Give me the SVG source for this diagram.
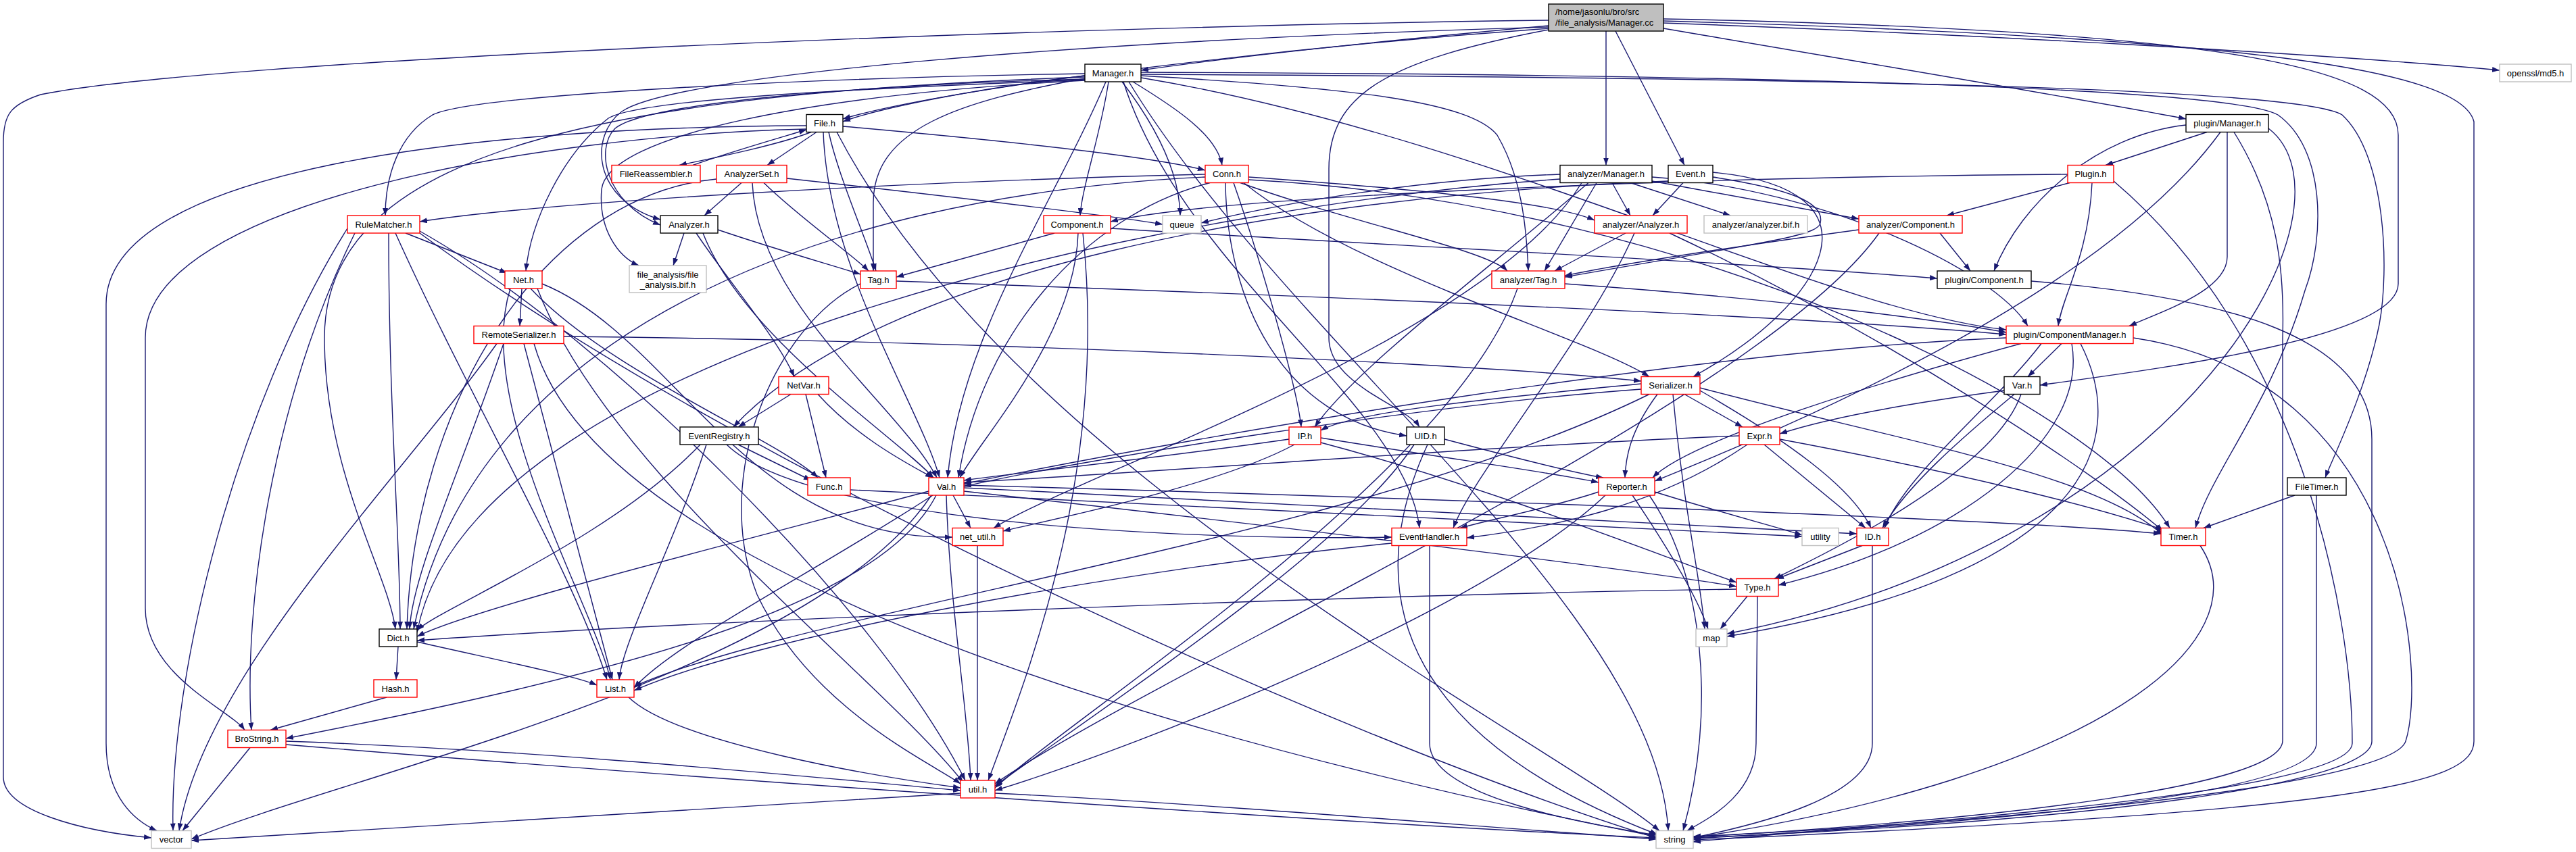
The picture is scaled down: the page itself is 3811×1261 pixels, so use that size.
<svg xmlns="http://www.w3.org/2000/svg" width="3811" height="1261" viewBox="0 0 3811 1261">
<style>
.e{fill:none;stroke:#191970;stroke-width:1.4}
.b{fill:#fff;stroke-width:1.4}
.r{stroke:#ff0000}
.k{stroke:#000}
.g{stroke:#bfbfbf}
.t{font-family:"Liberation Sans",Arial,sans-serif;font-size:13px;text-anchor:middle;fill:#000}
</style>
<defs>
<marker id="a" viewBox="0 0 11 8" markerWidth="11" markerHeight="8" refX="11" refY="4" orient="auto" markerUnits="userSpaceOnUse"><path d="M0,0 L11,4 L0,8 z" fill="#191970"/></marker>
</defs>
<rect width="3811" height="1261" fill="#fff"/>
<g id="edges" class="e" marker-end="url(#a)">
<path marker-end="url(#a)" d="M2291,38 C2050,60 1820,85 1688,104"/>
<path marker-end="url(#a)" d="M2461,34 C2900,50 3450,80 3698,104"/>
<path marker-end="url(#a)" d="M2291,42 C1900,70 1400,130 1247,176"/>
<path marker-end="url(#a)" d="M2291,40 C1600,60 1000,110 920,165 C872,200 875,295 977,325"/>
<path marker-end="url(#a)" d="M2461,28 C3300,45 3548,100 3548,200 L3548,420 C3548,500 3200,545 3018,570"/>
<path marker-end="url(#a)" d="M2390,46 L2492,244.5"/>
<path marker-end="url(#a)" d="M2291,44 C2050,90 1966,140 1966,250 L1966,500 C1966,570 2080,600 2100,632"/>
<path marker-end="url(#a)" d="M2461,42 C2800,100 3100,150 3234,176"/>
<path marker-end="url(#a)" d="M2376,46 L2376,244.5"/>
<path marker-end="url(#a)" d="M2291,30 C1500,40 300,90 60,140 C15,155 5,170 5,210 L5,1150 C5,1200 120,1230 224,1240"/>
<path marker-end="url(#a)" d="M2461,31 C3300,55 3640,100 3660,180 L3660,1097 C3660,1160 3500,1200 2505,1243"/>
<path marker-end="url(#a)" d="M1605,112 C1450,130 1300,160 1247,180"/>
<path marker-end="url(#a)" d="M1676,121 C1740,160 1800,200 1808,244.5"/>
<path marker-end="url(#a)" d="M1640,121 C1628,200 1600,280 1598,319"/>
<path marker-end="url(#a)" d="M1660,121 C1705,180 1745,250 1746,319"/>
<path marker-end="url(#a)" d="M1605,116 C1420,150 1292,190 1292,300 L1292,401"/>
<path marker-end="url(#a)" d="M1688,112 C2000,130 2175,150 2215,200 C2250,260 2258,330 2261,401"/>
<path marker-end="url(#a)" d="M1605,109 C1200,115 700,140 640,170 C590,200 570,260 570,319"/>
<path marker-end="url(#a)" d="M1605,118 C1300,130 950,145 900,175 C830,230 785,330 778,401"/>
<path marker-end="url(#a)" d="M1605,117 C1300,125 960,150 910,190 C880,220 895,300 977,333"/>
<path marker-end="url(#a)" d="M1605,114 C900,140 480,220 480,500 C480,700 575,850 585,931"/>
<path marker-end="url(#a)" d="M1636,121 C1560,300 1420,500 1402,707"/>
<path marker-end="url(#a)" d="M1662,121 C1750,400 2080,600 2100,781.5"/>
<path marker-end="url(#a)" d="M1688,107 C2600,110 3300,130 3370,170 C3440,220 3440,350 3410,430 C3360,600 3270,700 3248,781.5"/>
<path marker-end="url(#a)" d="M1688,110 C2700,115 3400,130 3465,170 C3530,230 3535,400 3520,480 C3500,580 3450,680 3440,707"/>
<path marker-end="url(#a)" d="M1688,115 C2200,200 2700,460 2968,488"/>
<path marker-end="url(#a)" d="M1605,119 C1200,140 900,200 890,280 C885,340 915,380 945,393"/>
<path marker-end="url(#a)" d="M1670,121 C1900,500 2450,900 2468,1229.5"/>
<path marker-end="url(#a)" d="M1200,195.5 C1150,215 1050,235 1005,244.5"/>
<path marker-end="url(#a)" d="M1025,244.5 C1080,225 1150,205 1193,192"/>
<path marker-end="url(#a)" d="M1208,195.5 L1135,244.5"/>
<path marker-end="url(#a)" d="M1247,187 C1450,205 1700,230 1783,252"/>
<path marker-end="url(#a)" d="M1226,195.5 C1240,260 1280,350 1296,401"/>
<path marker-end="url(#a)" d="M1218,195.5 C1225,400 1360,600 1390,707"/>
<path marker-end="url(#a)" d="M1238,195.5 C1500,700 2300,1100 2455,1229.5"/>
<path marker-end="url(#a)" d="M1193,186 C700,188 157,250 157,450 L157,1100 C157,1180 200,1215 232,1229.5"/>
<path marker-end="url(#a)" d="M1193,191 C800,200 215,300 215,500 L215,900 C215,1000 340,1050 362,1080.5"/>
<path marker-end="url(#a)" d="M1097,270.5 L1042,319"/>
<path marker-end="url(#a)" d="M1130,270.5 C1180,320 1265,380 1285,401"/>
<path marker-end="url(#a)" d="M1164,264 C1400,290 1650,320 1720,332"/>
<path marker-end="url(#a)" d="M1113,270.5 C1120,450 1330,600 1386,707"/>
<path marker-end="url(#a)" d="M1060,265 C800,290 612,600 602,931"/>
<path marker-end="url(#a)" d="M1012,345 L996,393"/>
<path marker-end="url(#a)" d="M1030,345 C1080,420 1150,500 1175,557.5"/>
<path marker-end="url(#a)" d="M1062,340 C1150,370 1240,395 1273,406"/>
<path marker-end="url(#a)" d="M1040,345 C1100,500 1330,650 1381,707"/>
<path marker-end="url(#a)" d="M1783,258 C1300,270 800,300 621,328"/>
<path marker-end="url(#a)" d="M1783,262 C1200,290 700,500 612,931"/>
<path marker-end="url(#a)" d="M1790,270.5 C1600,320 1450,500 1418,707"/>
<path marker-end="url(#a)" d="M1813,270.5 C1815,450 1900,620 2081,645"/>
<path marker-end="url(#a)" d="M1840,270.5 C2000,400 2350,500 2440,557.5"/>
<path marker-end="url(#a)" d="M1835,270.5 C2000,330 2200,370 2230,401"/>
<path marker-end="url(#a)" d="M1847,262 C2100,280 2300,300 2359,326"/>
<path marker-end="url(#a)" d="M1825,270.5 C1870,400 1920,580 1925,632"/>
<path marker-end="url(#a)" d="M1847,266 C2500,300 3100,600 3210,781.5"/>
<path marker-end="url(#a)" d="M2385,270.5 L2412,319"/>
<path marker-end="url(#a)" d="M2412,270.5 L2560,319"/>
<path marker-end="url(#a)" d="M2444,268 L2750,324"/>
<path marker-end="url(#a)" d="M2362,270.5 L2285,401"/>
<path marker-end="url(#a)" d="M2444,262 C2700,280 2950,400 3000,482.5"/>
<path marker-end="url(#a)" d="M2308,258 C2100,265 1900,300 1777,330"/>
<path marker-end="url(#a)" d="M2308,265 C1800,300 700,500 617,936"/>
<path marker-end="url(#a)" d="M2340,270.5 C2200,500 1600,700 1470,781.5"/>
<path marker-end="url(#a)" d="M2350,270.5 C2200,400 2000,550 1945,632"/>
<path marker-end="url(#a)" d="M2490,270.5 L2445,319"/>
<path marker-end="url(#a)" d="M2534,262 C2650,280 2700,300 2693,330 C2690,350 2600,360 2315,410"/>
<path marker-end="url(#a)" d="M2468,268 C1900,290 1300,400 1085,632"/>
<path marker-end="url(#a)" d="M2534,255 C2800,280 2700,450 2505,557.5"/>
<path marker-end="url(#a)" d="M3059,258 C2500,262 1800,290 1643,328"/>
<path marker-end="url(#a)" d="M3062,270.5 L2880,319"/>
<path marker-end="url(#a)" d="M3127,268 C3400,500 3480,900 3480,1100 C3480,1180 2700,1225 2505,1246"/>
<path marker-end="url(#a)" d="M3095,270.5 C3090,380 3050,440 3045,482.5"/>
<path marker-end="url(#a)" d="M3265,195.5 L3115,244.5"/>
<path marker-end="url(#a)" d="M3234,185 C3100,200 2990,300 2950,401"/>
<path marker-end="url(#a)" d="M3285,195.5 C3100,450 2600,650 2448,712"/>
<path marker-end="url(#a)" d="M3295,195.5 L3295,380 C3295,430 3200,460 3150,482.5"/>
<path marker-end="url(#a)" d="M3305,195.5 C3370,300 3380,400 3377,500 L3377,1096 C3377,1160 3000,1210 2505,1239"/>
<path marker-end="url(#a)" d="M3356,190 C3500,300 3250,800 2555,938"/>
<path marker-end="url(#a)" d="M2870,345 L2915,401"/>
<path marker-end="url(#a)" d="M2750,340 C2600,360 2400,390 2315,408"/>
<path marker-end="url(#a)" d="M2780,345 C2600,600 1700,1000 1472,1160"/>
<path marker-end="url(#a)" d="M1560,345 L1326,410"/>
<path marker-end="url(#a)" d="M1643,338 C2000,360 2600,390 2866,412"/>
<path marker-end="url(#a)" d="M1595,345 C1590,500 1450,650 1420,707"/>
<path marker-end="url(#a)" d="M1602,345 C1640,700 1520,1000 1462,1155"/>
<path marker-end="url(#a)" d="M2405,345 L2300,401"/>
<path marker-end="url(#a)" d="M2418,345 C2350,500 2180,700 2150,781.5"/>
<path marker-end="url(#a)" d="M2470,345 C2800,500 3100,700 3200,786"/>
<path marker-end="url(#a)" d="M1273,420 C1150,480 1050,700 1120,880 C1200,1050 1380,1130 1421,1160"/>
<path marker-end="url(#a)" d="M1326,416 C2000,440 2700,470 2968,495"/>
<path marker-end="url(#a)" d="M2245,427 C2150,700 1600,1050 1472,1166"/>
<path marker-end="url(#a)" d="M2315,420 C2600,440 2850,470 2968,492"/>
<path marker-end="url(#a)" d="M3005,416 C3300,440 3509,500 3509,650 L3509,1097 C3509,1160 3100,1215 2505,1240"/>
<path marker-end="url(#a)" d="M3050,508.5 L3000,557.5"/>
<path marker-end="url(#a)" d="M2968,500 C2500,520 1800,640 1426,716"/>
<path marker-end="url(#a)" d="M2990,508.5 C2800,560 2500,650 2445,707"/>
<path marker-end="url(#a)" d="M3020,508.5 C2950,600 2820,700 2788,781.5"/>
<path marker-end="url(#a)" d="M3065,508.5 C3090,650 2900,800 2631,866"/>
<path marker-end="url(#a)" d="M3078,508.5 C3150,650 3100,850 2555,942"/>
<path marker-end="url(#a)" d="M3156,500 C3560,560 3590,1000 3559,1097 C3540,1160 3000,1215 2505,1238"/>
<path marker-end="url(#a)" d="M2965,578 C2800,600 2700,620 2633,642"/>
<path marker-end="url(#a)" d="M2980,583.5 C2900,650 2820,720 2785,781.5"/>
<path marker-end="url(#a)" d="M2990,583.5 C2950,700 2700,820 2625,856.5"/>
<path marker-end="url(#a)" d="M2428,568 C2200,590 2000,610 1954,637"/>
<path marker-end="url(#a)" d="M2428,576 C2100,600 1600,680 1426,720"/>
<path marker-end="url(#a)" d="M2452,583.5 C2410,640 2405,680 2404,707"/>
<path marker-end="url(#a)" d="M2492,583.5 L2578,632"/>
<path marker-end="url(#a)" d="M2515,578 C2640,650 2740,720 2768,781.5"/>
<path marker-end="url(#a)" d="M2515,574 C2800,650 3100,700 3200,792"/>
<path marker-end="url(#a)" d="M2475,583.5 C2490,750 2515,850 2522,931"/>
<path marker-end="url(#a)" d="M2440,583.5 C2000,800 1200,900 938,1016"/>
<path marker-end="url(#a)" d="M600,345 L750,404"/>
<path marker-end="url(#a)" d="M575,345 C575,600 592,800 592,931"/>
<path marker-end="url(#a)" d="M525,345 C400,600 360,900 372,1080.5"/>
<path marker-end="url(#a)" d="M585,345 C700,600 850,850 898,1006"/>
<path marker-end="url(#a)" d="M621,342 C900,500 1300,900 1428,1155"/>
<path marker-end="url(#a)" d="M514,338 C350,600 250,1000 256,1229.5"/>
<path marker-end="url(#a)" d="M621,345 C1100,700 2000,1100 2450,1240"/>
<path marker-end="url(#a)" d="M772,427 L769,482.5"/>
<path marker-end="url(#a)" d="M755,427 C700,600 880,900 903,1006"/>
<path marker-end="url(#a)" d="M785,427 C900,550 1150,650 1210,707"/>
<path marker-end="url(#a)" d="M802,420 C1000,500 1100,800 1409,795"/>
<path marker-end="url(#a)" d="M795,427 C900,700 1300,1000 1425,1158"/>
<path marker-end="url(#a)" d="M834,498 C1500,505 2200,540 2428,564"/>
<path marker-end="url(#a)" d="M745,508.5 C680,700 610,850 606,931"/>
<path marker-end="url(#a)" d="M775,508.5 L906,1006"/>
<path marker-end="url(#a)" d="M735,508.5 C600,700 300,1000 265,1229.5"/>
<path marker-end="url(#a)" d="M790,508.5 C900,900 2000,1150 2450,1238"/>
<path marker-end="url(#a)" d="M1170,583.5 L1092,632"/>
<path marker-end="url(#a)" d="M1192,583.5 L1222,707"/>
<path marker-end="url(#a)" d="M1210,583.5 C1270,650 1350,690 1380,707"/>
<path marker-end="url(#a)" d="M1092,658 L1200,711"/>
<path marker-end="url(#a)" d="M1045,658 C1000,800 920,950 916,1006"/>
<path marker-end="url(#a)" d="M1036,658 C900,800 650,900 617,933"/>
<path marker-end="url(#a)" d="M1075,658 C1200,780 1800,800 2059,795"/>
<path marker-end="url(#a)" d="M1258,725 C1800,750 2400,780 2666,794"/>
<path marker-end="url(#a)" d="M1410,733 L1436,781.5"/>
<path marker-end="url(#a)" d="M1426,727 C1900,780 2400,840 2569,868"/>
<path marker-end="url(#a)" d="M1374,727 C1100,800 700,900 617,942"/>
<path marker-end="url(#a)" d="M1380,733 C1200,850 1000,950 938,1018"/>
<path marker-end="url(#a)" d="M1385,733 C1300,900 900,1000 423,1093"/>
<path marker-end="url(#a)" d="M1426,718 C2200,740 3000,770 3197,790"/>
<path marker-end="url(#a)" d="M1426,722 C2000,750 2600,780 2747,790"/>
<path marker-end="url(#a)" d="M1378,733 C1200,1000 500,1150 283,1242"/>
<path marker-end="url(#a)" d="M1400,733 C1405,900 1432,1050 1436,1155"/>
<path marker-end="url(#a)" d="M1954,648 C2150,680 2300,700 2365,714"/>
<path marker-end="url(#a)" d="M1907,650 C1700,680 1500,700 1426,711"/>
<path marker-end="url(#a)" d="M1954,655 C2200,720 2450,820 2569,862"/>
<path marker-end="url(#a)" d="M1915,658 C1800,720 1550,770 1484,786"/>
<path marker-end="url(#a)" d="M2137,650 C2250,680 2330,700 2372,707"/>
<path marker-end="url(#a)" d="M2092,658 C2000,800 1700,1000 1472,1163"/>
<path marker-end="url(#a)" d="M2112,658 C2000,900 2100,1100 2452,1235"/>
<path marker-end="url(#a)" d="M2610,658 L2760,781.5"/>
<path marker-end="url(#a)" d="M2633,650 C2900,700 3100,750 3200,784"/>
<path marker-end="url(#a)" d="M2573,645 C2200,660 1700,700 1426,714"/>
<path marker-end="url(#a)" d="M2585,658 C2450,750 2300,780 2170,796"/>
<path marker-end="url(#a)" d="M2365,728 C2300,750 2200,770 2160,781.5"/>
<path marker-end="url(#a)" d="M2448,728 C2550,760 2630,780 2666,792"/>
<path marker-end="url(#a)" d="M2415,733 C2460,800 2510,880 2527,931"/>
<path marker-end="url(#a)" d="M2440,733 C2520,850 2540,1050 2490,1229.5"/>
<path marker-end="url(#a)" d="M2375,733 C2200,900 1700,1100 1472,1170"/>
<path marker-end="url(#a)" d="M2755,807.5 L2628,857"/>
<path marker-end="url(#a)" d="M2770,807.5 L2770,1100 C2770,1180 2600,1220 2505,1240"/>
<path marker-end="url(#a)" d="M2059,804 C1600,850 1100,950 938,1022"/>
<path marker-end="url(#a)" d="M2115,807.5 L2115,1100 C2115,1180 2350,1220 2450,1236"/>
<path marker-end="url(#a)" d="M2569,872 C2000,880 1000,920 617,948"/>
<path marker-end="url(#a)" d="M2585,882.5 L2545,931"/>
<path marker-end="url(#a)" d="M2600,882.5 L2598,1100 C2598,1180 2520,1215 2496,1229.5"/>
<path marker-end="url(#a)" d="M3255,807.5 C3350,950 3100,1150 2505,1240"/>
<path marker-end="url(#a)" d="M3395,733 L3260,781.5"/>
<path marker-end="url(#a)" d="M3427,733 L3427,1100 C3427,1180 2900,1220 2505,1241"/>
<path marker-end="url(#a)" d="M589,957 L586,1006"/>
<path marker-end="url(#a)" d="M617,950 C750,980 850,1000 883,1014"/>
<path marker-end="url(#a)" d="M572,1032 L400,1080.5"/>
<path marker-end="url(#a)" d="M930,1032 C1000,1100 1300,1150 1421,1166"/>
<path marker-end="url(#a)" d="M370,1106.5 L270,1229.5"/>
<path marker-end="url(#a)" d="M423,1102 C1000,1150 2000,1220 2450,1240"/>
<path marker-end="url(#a)" d="M423,1097 C800,1110 1200,1150 1421,1170"/>
<path marker-end="url(#a)" d="M1421,1174 C1000,1200 500,1230 283,1244"/>
<path marker-end="url(#a)" d="M1472,1174 C1800,1190 2200,1225 2450,1242"/>
<path marker-end="url(#a)" d="M1446,807.5 L1446,1155"/>
</g>
<g id="n-main"><rect x="2291" y="6" width="170" height="40" fill="#bfbfbf" stroke="#000" stroke-width="1.4"/><text class="t" x="2301" y="22" style="text-anchor:start">/home/jasonlu/bro/src</text><text class="t" x="2301" y="37.5" style="text-anchor:start">/file_analysis/Manager.cc</text></g>
<g id="n-Manager_h"><rect class="b k" x="1605" y="95" width="83" height="26"/><text class="t" x="1646.5" y="112.5">Manager.h</text></g>
<g id="n-openssl_md5_h"><rect class="b g" x="3698" y="95" width="106" height="26"/><text class="t" x="3751" y="112.5">openssl/md5.h</text></g>
<g id="n-File_h"><rect class="b k" x="1193" y="169.5" width="54" height="26"/><text class="t" x="1220" y="187">File.h</text></g>
<g id="n-plugin_Manager_h"><rect class="b k" x="3234" y="169.5" width="122" height="26"/><text class="t" x="3295" y="187">plugin/Manager.h</text></g>
<g id="n-FileReassembler_h"><rect class="b r" x="905" y="244.5" width="131" height="26"/><text class="t" x="970.5" y="262">FileReassembler.h</text></g>
<g id="n-AnalyzerSet_h"><rect class="b r" x="1060" y="244.5" width="104" height="26"/><text class="t" x="1112" y="262">AnalyzerSet.h</text></g>
<g id="n-Conn_h"><rect class="b r" x="1783" y="244.5" width="64" height="26"/><text class="t" x="1815" y="262">Conn.h</text></g>
<g id="n-analyzer_Manager_h"><rect class="b k" x="2308" y="244.5" width="136" height="26"/><text class="t" x="2376" y="262">analyzer/Manager.h</text></g>
<g id="n-Event_h"><rect class="b k" x="2468" y="244.5" width="66" height="26"/><text class="t" x="2501" y="262">Event.h</text></g>
<g id="n-Plugin_h"><rect class="b r" x="3059" y="244.5" width="68" height="26"/><text class="t" x="3093" y="262">Plugin.h</text></g>
<g id="n-RuleMatcher_h"><rect class="b r" x="514" y="319" width="107" height="26"/><text class="t" x="567.5" y="336.5">RuleMatcher.h</text></g>
<g id="n-Analyzer_h"><rect class="b k" x="977" y="319" width="85" height="26"/><text class="t" x="1019.5" y="336.5">Analyzer.h</text></g>
<g id="n-Component_h"><rect class="b r" x="1544" y="319" width="99" height="26"/><text class="t" x="1593.5" y="336.5">Component.h</text></g>
<g id="n-queue"><rect class="b g" x="1720" y="319" width="57" height="26"/><text class="t" x="1748.5" y="336.5">queue</text></g>
<g id="n-analyzer_Analyzer_h"><rect class="b r" x="2359" y="319" width="137" height="26"/><text class="t" x="2427.5" y="336.5">analyzer/Analyzer.h</text></g>
<g id="n-analyzer_bif_h"><rect class="b g" x="2521" y="319" width="153" height="26"/><text class="t" x="2597.5" y="336.5">analyzer/analyzer.bif.h</text></g>
<g id="n-analyzer_Component_h"><rect class="b r" x="2750" y="319" width="153" height="26"/><text class="t" x="2826.5" y="336.5">analyzer/Component.h</text></g>
<g id="n-Net_h"><rect class="b r" x="747" y="401" width="55" height="26"/><text class="t" x="774.5" y="418.5">Net.h</text></g>
<g id="n-file_analysis_bif_h"><rect class="b g" x="931" y="393" width="114" height="40"/><text class="t" x="988" y="411">file_analysis/file</text><text class="t" x="988" y="425.5">_analysis.bif.h</text></g>
<g id="n-Tag_h"><rect class="b r" x="1273" y="401" width="53" height="26"/><text class="t" x="1299.5" y="418.5">Tag.h</text></g>
<g id="n-analyzer_Tag_h"><rect class="b r" x="2207" y="401" width="108" height="26"/><text class="t" x="2261" y="418.5">analyzer/Tag.h</text></g>
<g id="n-plugin_Component_h"><rect class="b k" x="2866" y="401" width="139" height="26"/><text class="t" x="2935.5" y="418.5">plugin/Component.h</text></g>
<g id="n-RemoteSerializer_h"><rect class="b r" x="701" y="482.5" width="133" height="26"/><text class="t" x="767.5" y="500">RemoteSerializer.h</text></g>
<g id="n-plugin_ComponentManager_h"><rect class="b r" x="2968" y="482.5" width="188" height="26"/><text class="t" x="3062" y="500">plugin/ComponentManager.h</text></g>
<g id="n-NetVar_h"><rect class="b r" x="1152" y="557.5" width="74" height="26"/><text class="t" x="1189" y="575">NetVar.h</text></g>
<g id="n-Serializer_h"><rect class="b r" x="2428" y="557.5" width="87" height="26"/><text class="t" x="2471.5" y="575">Serializer.h</text></g>
<g id="n-Var_h"><rect class="b k" x="2965" y="557.5" width="53" height="26"/><text class="t" x="2991.5" y="575">Var.h</text></g>
<g id="n-EventRegistry_h"><rect class="b k" x="1006" y="632" width="116" height="26"/><text class="t" x="1064" y="649.5">EventRegistry.h</text></g>
<g id="n-IP_h"><rect class="b r" x="1907" y="632" width="47" height="26"/><text class="t" x="1930.5" y="649.5">IP.h</text></g>
<g id="n-UID_h"><rect class="b k" x="2081" y="632" width="56" height="26"/><text class="t" x="2109" y="649.5">UID.h</text></g>
<g id="n-Expr_h"><rect class="b r" x="2573" y="632" width="60" height="26"/><text class="t" x="2603" y="649.5">Expr.h</text></g>
<g id="n-Func_h"><rect class="b r" x="1195" y="707" width="63" height="26"/><text class="t" x="1226.5" y="724.5">Func.h</text></g>
<g id="n-Val_h"><rect class="b r" x="1374" y="707" width="52" height="26"/><text class="t" x="1400" y="724.5">Val.h</text></g>
<g id="n-Reporter_h"><rect class="b r" x="2365" y="707" width="83" height="26"/><text class="t" x="2406.5" y="724.5">Reporter.h</text></g>
<g id="n-FileTimer_h"><rect class="b k" x="3384" y="707" width="87" height="26"/><text class="t" x="3427.5" y="724.5">FileTimer.h</text></g>
<g id="n-net_util_h"><rect class="b r" x="1409" y="781.5" width="75" height="26"/><text class="t" x="1446.5" y="799">net_util.h</text></g>
<g id="n-EventHandler_h"><rect class="b r" x="2059" y="781.5" width="111" height="26"/><text class="t" x="2114.5" y="799">EventHandler.h</text></g>
<g id="n-utility"><rect class="b g" x="2666" y="781.5" width="54" height="26"/><text class="t" x="2693" y="799">utility</text></g>
<g id="n-ID_h"><rect class="b r" x="2747" y="781.5" width="47" height="26"/><text class="t" x="2770.5" y="799">ID.h</text></g>
<g id="n-Timer_h"><rect class="b r" x="3197" y="781.5" width="66" height="26"/><text class="t" x="3230" y="799">Timer.h</text></g>
<g id="n-Type_h"><rect class="b r" x="2569" y="856.5" width="62" height="26"/><text class="t" x="2600" y="874">Type.h</text></g>
<g id="n-Dict_h"><rect class="b k" x="561" y="931" width="56" height="26"/><text class="t" x="589" y="948.5">Dict.h</text></g>
<g id="n-map"><rect class="b g" x="2509" y="931" width="46" height="26"/><text class="t" x="2532" y="948.5">map</text></g>
<g id="n-Hash_h"><rect class="b r" x="553" y="1006" width="64" height="26"/><text class="t" x="585" y="1023.5">Hash.h</text></g>
<g id="n-List_h"><rect class="b r" x="883" y="1006" width="55" height="26"/><text class="t" x="910.5" y="1023.5">List.h</text></g>
<g id="n-BroString_h"><rect class="b r" x="337" y="1080.5" width="86" height="26"/><text class="t" x="380" y="1098">BroString.h</text></g>
<g id="n-util_h"><rect class="b r" x="1421" y="1155" width="51" height="26"/><text class="t" x="1446.5" y="1172.5">util.h</text></g>
<g id="n-vector"><rect class="b g" x="224" y="1229.5" width="59" height="26"/><text class="t" x="253.5" y="1247">vector</text></g>
<g id="n-string"><rect class="b g" x="2450" y="1229.5" width="55" height="26"/><text class="t" x="2477.5" y="1247">string</text></g>
</svg>
